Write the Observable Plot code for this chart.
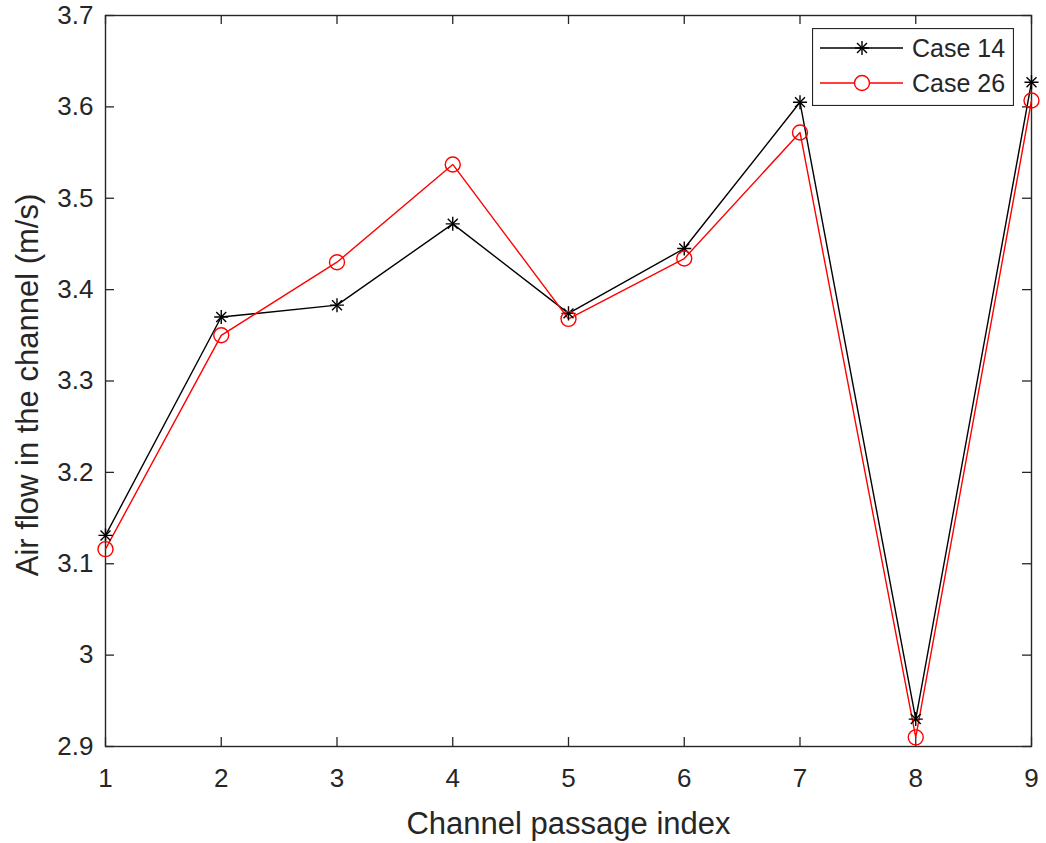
<!DOCTYPE html>
<html><head><meta charset="utf-8">
<script src="https://cdn.jsdelivr.net/npm/d3@7"></script>
<script src="https://cdn.jsdelivr.net/npm/@observablehq/plot@0.6"></script>
<style>
body{margin:0;background:#fff;font-family:"Liberation Sans",Arial,sans-serif;}
#wrap{position:relative;width:1046px;height:843px;}
#legend{position:absolute;left:812px;top:28px;}
</style></head>
<body><div id="wrap"><div id="chart"></div><div id="legend"></div></div>
<script>
const passageIndex = [1, 2, 3, 4, 5, 6, 7, 8, 9];
const case14 = [3.131, 3.370, 3.383, 3.472, 3.374, 3.445, 3.605, 2.930, 3.627];
const case26 = [3.116, 3.350, 3.430, 3.537, 3.368, 3.434, 3.572, 2.910, 3.607];
const seriesNames = ["Case 14", "Case 26"];
const xTicks = [1, 2, 3, 4, 5, 6, 7, 8, 9];
const yTicks = [2.9, 3.0, 3.1, 3.2, 3.3, 3.4, 3.5, 3.6, 3.7];
const yTickLabels = ["2.9", "3", "3.1", "3.2", "3.3", "3.4", "3.5", "3.6", "3.7"];
const xLabel = "Channel passage index";
const yLabel = "Air flow in the channel (m/s)";

const rows14 = passageIndex.map((x, i) => ({x, y: case14[i]}));
const rows26 = passageIndex.map((x, i) => ({x, y: case26[i]}));

const W = 1046, H = 843, mL = 105, mR = 15, mT = 15, mB = 97;
const fw = W - mL - mR, fh = H - mT - mB, tl = 9;
const axisColor = "#262626";
const starR = 4.6;

const chart = Plot.plot({
  width: W, height: H,
  marginLeft: mL, marginRight: mR, marginTop: mT, marginBottom: mB,
  style: {fontFamily: '"Liberation Sans", Arial, sans-serif', fontSize: "26px", color: axisColor, background: "#fff"},
  x: {domain: [1, 9]},
  y: {domain: [2.9, 3.7]},
  marks: [
    // inward ticks on all four sides
    Plot.tickX(xTicks, {x: d => d, stroke: axisColor, strokeWidth: 1.3, insetTop: fh - tl}),
    Plot.tickX(xTicks, {x: d => d, stroke: axisColor, strokeWidth: 1.3, insetBottom: fh - tl}),
    Plot.tickY(yTicks, {y: d => d, stroke: axisColor, strokeWidth: 1.3, insetRight: fw - tl}),
    Plot.tickY(yTicks, {y: d => d, stroke: axisColor, strokeWidth: 1.3, insetLeft: fw - tl}),
    Plot.axisX({ticks: xTicks, tickSize: 0, tickPadding: 22, tickFormat: d => String(d), label: null, fill: axisColor}),
    Plot.axisY({ticks: yTicks, tickSize: 0, tickPadding: 12, tickFormat: (d, i) => yTickLabels[i], label: null, fill: axisColor}),
    Plot.frame({stroke: axisColor, strokeWidth: 1.4}),
    Plot.text([xLabel], {frameAnchor: "bottom", dy: 78, text: d => d, fontSize: 31, fill: axisColor, lineAnchor: "middle", textAnchor: "middle"}),
    Plot.text([yLabel], {frameAnchor: "left", dx: -77, dy: 4, rotate: -90, text: d => d, fontSize: 31, fill: axisColor, lineAnchor: "middle", textAnchor: "middle"}),
    // series
    Plot.line(rows14, {x: "x", y: "y", stroke: "#000", strokeWidth: 1.4}),
    Plot.line(rows26, {x: "x", y: "y", stroke: "#ff0000", strokeWidth: 1.4}),
    Plot.dot(rows14, {x: "x", y: "y", symbol: "plus", r: starR, stroke: "#000", strokeWidth: 1.4, fill: "none"}),
    Plot.dot(rows14, {x: "x", y: "y", symbol: "times", r: starR, stroke: "#000", strokeWidth: 1.4, fill: "none"}),
    Plot.dot(rows26, {x: "x", y: "y", symbol: "circle", r: 7.5, stroke: "#ff0000", strokeWidth: 1.4, fill: "none"})
  ]
});
document.getElementById("chart").appendChild(chart);

// legend (inside plot box, top-right)
const lg = d3.select("#legend").append("svg").attr("width", 202).attr("height", 78);
lg.append("rect").attr("x", 0.5).attr("y", 0.5).attr("width", 201).attr("height", 77)
  .attr("fill", "#fff").attr("stroke", axisColor).attr("stroke-width", 1.2);
const items = [
  {name: seriesNames[0], color: "#000", marker: "star", y: 20},
  {name: seriesNames[1], color: "#ff0000", marker: "circle", y: 55}
];
const starSize = Math.PI * starR * starR;
for (const it of items) {
  lg.append("line").attr("x1", 8).attr("x2", 91).attr("y1", it.y).attr("y2", it.y)
    .attr("stroke", it.color).attr("stroke-width", 1.4);
  if (it.marker === "star") {
    lg.append("path").attr("transform", `translate(50,${it.y})`)
      .attr("d", d3.symbol(d3.symbolPlus, starSize)()).attr("stroke", it.color).attr("stroke-width", 1.4).attr("fill", "none");
    lg.append("path").attr("transform", `translate(50,${it.y})`)
      .attr("d", d3.symbol(d3.symbolTimes, starSize)()).attr("stroke", it.color).attr("stroke-width", 1.4).attr("fill", "none");
  } else {
    lg.append("circle").attr("cx", 50).attr("cy", it.y).attr("r", 7.5)
      .attr("stroke", it.color).attr("stroke-width", 1.4).attr("fill", "#fff");
  }
  lg.append("text").attr("x", 100).attr("y", it.y).attr("dy", "0.35em")
    .attr("font-size", 25).attr("fill", axisColor)
    .attr("font-family", '"Liberation Sans", Arial, sans-serif').text(it.name);
}
</script>
</body></html>
